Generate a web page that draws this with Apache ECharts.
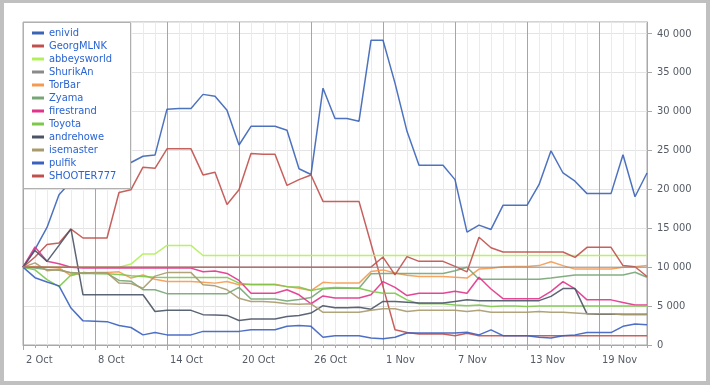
<!DOCTYPE html>
<html><head><meta charset="utf-8">
<script src="https://cdn.jsdelivr.net/npm/echarts@6/dist/echarts.min.js"></script>
<style>
html,body{margin:0;padding:0;background:#fff;}
#c{position:absolute;left:0;top:0;width:710px;height:385px;}
#frame{position:absolute;left:0;top:0;width:710px;height:385px;box-sizing:border-box;border:4px solid #c0c0c0;border-top-width:3px;pointer-events:none;}
</style></head>
<body><div id="c"></div><div id="frame"></div>
<script>
const categories = ["2 Oct","3 Oct","4 Oct","5 Oct","6 Oct","7 Oct","8 Oct","9 Oct","10 Oct","11 Oct","12 Oct","13 Oct","14 Oct","15 Oct","16 Oct","17 Oct","18 Oct","19 Oct","20 Oct","21 Oct","22 Oct","23 Oct","24 Oct","25 Oct","26 Oct","27 Oct","28 Oct","29 Oct","30 Oct","31 Oct","1 Nov","2 Nov","3 Nov","4 Nov","5 Nov","6 Nov","7 Nov","8 Nov","9 Nov","10 Nov","11 Nov","12 Nov","13 Nov","14 Nov","15 Nov","16 Nov","17 Nov","18 Nov","19 Nov","20 Nov","21 Nov","22 Nov","23 Nov"];
const seriesNames = ["enivid","GeorgMLNK","abbeysworld","ShurikAn","TorBar","Zyama","firestrand","Toyota","andrehowe","isemaster","pulfik","SHOOTER777"];
const yTicks = [0,5000,10000,15000,20000,25000,30000,35000,40000];

const enivid = [10000,12300,15100,19300,21000,22000,22600,23000,23200,23450, 24250,24400,30300,30400,30400,32200,31950,30150,25700,28100, 28100,28100,27600,22650,21900,33000,29100,29100,28750,39150, 39150,33650,27450,23100,23100,23100,21250,14500,15400,14850, 17950,17950,17950,20600,24950,22100,21050,19450,19450,19450, 24450,19050,22100];
const GeorgMLNK = [10000,11300,12900,13100,14900,13750,13750,13750,19600,19950, 22850,22700,25200,25200,25200,21850,22200,18050,19950,24600, 24500,24500,20500,21250,21850,18450,18450,18450,18450,13000, 7500,1950,1600,1400,1400,1400,1200,1500,1200,1200, 1200,1200,1200,1200,1200,1200,1200,1200,1200,1200, 1200,1200,1200];
const abbeysworld = [10000,10000,10000,10000,10000,10000,10000,10000,10000,10400, 11700,11700,12800,12800,12800,11500,11500,11500,11500,11500, 11500,11500,11500,11500,11500,11500,11500,11500,11500,11500, 11500,11500,11500,11500,11500,11500,11500,11500,11500,11500, 11500,11500,11500,11500,11500,11500,11500,11500,11500,11500, 11500,11500,11500];
const ShurikAn = [10000,10000,10000,10000,10000,10000,10000,10000,10000,10000, 10000,10000,10000,10000,10000,10000,10000,10000,10000,10000, 10000,10000,10000,10000,10000,10000,10000,10000,10000,10000, 10000,10000,10000,10000,10000,10000,10000,10000,10000,10000, 10000,10000,10000,10000,10000,10000,10000,10000,10000,10000, 10000,10000,10000];
const TorBar = [10000,10100,10000,9900,8900,9300,9250,9300,9400,8600, 9000,8450,8150,8150,8150,8050,7950,8150,7750,7800, 7800,7800,7500,7300,7000,8050,7950,7950,7950,9450, 9650,9250,8950,8800,8800,8800,8700,8600,9750,9850, 10050,10100,10100,10200,10700,10200,9750,9750,9750,9750, 10000,10050,10200];
const Zyama = [10000,9900,9700,9600,9300,9200,9200,9200,8300,8200, 7100,7100,6600,6600,6600,6600,6600,6600,7400,5900, 5900,5900,5650,5850,6100,7200,7300,7300,7300,9150, 9200,9200,9200,9200,9200,9200,9550,10000,8450,8450, 8450,8450,8450,8450,8600,8800,9000,9000,9000,9000, 9000,9350,8700];
const firestrand = [10000,12600,10750,10450,10000,9900,9880,9880,9880,9880, 9880,9880,9880,9880,9880,9400,9500,9200,8300,6650, 6650,6650,7100,6450,5300,6300,6030,6030,6030,6450, 8150,7400,6350,6650,6650,6650,6900,6650,8700,7200, 5950,5950,5950,5950,6900,8150,7200,5800,5800,5800, 5450,5150,5150];
const Toyota = [10000,9650,8400,7500,9000,9300,9200,9150,9050,8900, 8800,8700,8680,8680,8680,8680,8680,8680,7950,7750, 7750,7750,7500,7450,7000,7300,7400,7350,7300,6900, 6650,6650,5800,5300,5300,5300,5150,5050,5150,4950, 5000,5000,4950,5000,5000,5000,5000,5000,5000,5000, 5000,5000,5000];
const andrehowe = [10000,12150,10750,12800,14900,6450,6450,6450,6450,6450, 6450,4300,4450,4450,4450,3900,3850,3800,3150,3350, 3350,3350,3650,3800,4100,5050,4800,4800,4850,4600, 5600,5600,5500,5400,5400,5400,5600,5800,5700,5700, 5700,5700,5700,5700,6250,7250,7250,4000,3950,3950, 3950,3950,3950];
const isemaster = [10000,10550,9550,9700,9250,9250,9300,9300,7950,7900, 7300,8850,9300,9300,9300,7750,7600,7100,6000,5600, 5600,5500,5300,5250,5300,4200,4200,4200,4200,4450, 4650,4650,4300,4450,4450,4450,4450,4300,4450,4200, 4200,4200,4200,4300,4200,4200,4100,4000,4000,4000, 3900,3900,3900];
const pulfik = [10000,8650,8100,7600,4750,3100,3050,3000,2500,2250, 1300,1600,1300,1300,1300,1750,1750,1750,1750,1950, 1950,1950,2400,2500,2400,1000,1200,1200,1200,900, 800,1000,1550,1550,1550,1550,1550,1650,1300,1950, 1200,1200,1200,1000,900,1200,1300,1600,1600,1600, 2400,2700,2600];
const SHOOTER777 = [10000,10000,10000,10000,10000,10000,10000,10000,10000,10000, 10000,10000,10000,10000,10000,10000,10000,10000,10000,10000, 10000,10000,10000,10000,10000,10000,10000,10000,10000,10000, 11300,9000,11350,10750,10750,10750,10100,9400,13850,12500, 11950,11950,11950,11950,11950,11950,11250,12550,12550,12550, 10200,10050,8800];

const values = [enivid,GeorgMLNK,abbeysworld,ShurikAn,TorBar,Zyama,firestrand,Toyota,andrehowe,isemaster,pulfik,SHOOTER777];
const colors = ['#3b64b7','#c0504d','#b2f05a','#8a8a8a','#f59a52','#76a676','#e0338a','#7cc84a','#4a5466','#a89a6c','#3a60c0','#c0504d'];
const opac = [0.9,0.9,0.9,0.6,0.9,0.9,0.9,0.9,0.9,0.9,0.9,0.9];
const zs = [2,2,2,3,2,2,2,2,2,2,2,2];

const FONT = '"DejaVu Sans Condensed","Liberation Sans",sans-serif';
const fmt = v => String(v).replace(/\B(?=(\d{3})+(?!\d))/g, ' ');

const chart = echarts.init(document.getElementById('c'), null, {renderer:'canvas'});
const option = {
  animation:false,
  backgroundColor:'#fff',
  grid:{left:23,right:63,top:22,bottom:40,show:true,borderColor:'#a8a8a8',borderWidth:1,backgroundColor:'transparent'},
  legend:{
    orient:'vertical', left:23, top:22, z:10,
    padding:[5,14,6,9], itemGap:1,
    itemWidth:12, itemHeight:3, icon:'rect',
    textStyle:{color:'#2a64d2',fontSize:11,fontFamily:FONT,lineHeight:12},
    data:seriesNames.map((n,i)=>({name:n,itemStyle:{color:colors[i],opacity:1}}))
  },
  graphic:[{type:'rect',left:23,top:22,z:5,shape:{width:107,height:166},style:{fill:'#fff',stroke:'#b0b0b0',lineWidth:1}}],
  xAxis:[
    {type:'category',data:categories,boundaryGap:false,position:'bottom',
     axisLine:{show:true,lineStyle:{color:'#a8a8a8'}},
     axisTick:{show:true,interval:0,length:3,lineStyle:{color:'#a8a8a8'}},
     axisLabel:{show:false},
     splitLine:{show:true,interval:0,lineStyle:{color:'#f4e6ec',width:1}}},
    {type:'category',data:categories,boundaryGap:false,position:'bottom',
     axisLine:{show:false},
     axisTick:{show:true,interval:5,length:5,lineStyle:{color:'#a8a8a8'}},
     axisLabel:{show:true,interval:5,align:'left',padding:[0,0,0,3],margin:10,color:'#555b66',fontSize:11,fontFamily:FONT},
     splitLine:{show:true,interval:5,lineStyle:{color:'#a6a6a6',width:1}}}
  ],
  yAxis:{type:'value',position:'right',min:0,max:41500,interval:5000,
    axisLine:{show:true,lineStyle:{color:'#a8a8a8'}},
    axisTick:{show:true,length:5,lineStyle:{color:'#a8a8a8'}},
    axisLabel:{margin:10,color:'#555b66',fontSize:11,fontFamily:FONT,showMaxLabel:false,
      formatter:v=> yTicks.indexOf(v)>=0 ? fmt(v) : ''},
    splitLine:{show:true,lineStyle:{color:'#e4e4e4'}}},
  series: seriesNames.map((n,i)=>({
    name:n,type:'line',data:values[i],symbol:'none',showSymbol:false,
    xAxisIndex:0, z:zs[i],
    lineStyle:{width:1.5,color:colors[i],opacity:opac[i]},
    itemStyle:{color:colors[i]},
    emphasis:{disabled:true}
  }))
};
chart.setOption(option);
</script>
</body></html>
